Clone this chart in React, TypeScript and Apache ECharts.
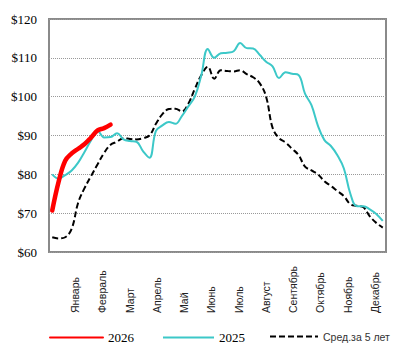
import React, { useEffect, useRef } from "react";
import * as echarts from "echarts";

const weeks: string[] = Array.from({ length: 52 }, (_, i) => `W${i + 1}`);
const months = ["Январь", "Февраль", "Март", "Апрель", "Май", "Июнь", "Июль", "Август", "Сентябрь", "Октябрь", "Ноябрь", "Декабрь"];
const yTicks = [60, 70, 80, 90, 100, 110, 120];

const s2026 = [70.7, 78.2, 83.5, 85.4, 86.6, 87.8, 89.5, 91.3, 91.9, 92.8];
const s2025 = [
  80.0, 78.9, 79.8, 81.0, 83.0, 85.8, 88.8, 91.2, 89.5, 89.6,
  90.6, 89.0, 88.6, 88.4, 86.0, 84.3, 91.2, 92.6, 93.5, 93.0,
  95.0, 97.5, 100.0, 105.5, 112.3, 110.0, 111.2, 111.3, 111.7, 113.8,
  112.5, 112.4, 110.8, 109.0, 107.8, 104.8, 106.3, 105.9, 105.6, 100.8,
  97.8, 92.5, 88.8, 87.3, 84.9, 81.5, 75.0, 71.8, 71.8, 71.0,
  69.8, 68.0,
];
const avg5 = [
  63.8, 63.5, 63.8, 66.0, 72.7, 76.5, 79.6, 82.6, 85.5, 87.6,
  88.4, 89.3, 89.1, 89.0, 89.3, 90.0, 93.0, 95.5, 96.8, 96.9,
  96.2, 98.2, 102.0, 105.5, 107.7, 104.6, 106.8, 106.6, 106.5, 106.8,
  105.8, 105.0, 103.5, 100.0, 92.0, 89.3, 88.2, 86.6, 85.0, 82.0,
  81.0, 80.0, 78.2, 77.0, 75.7, 74.4, 72.3, 71.9, 71.5, 69.2,
  67.5, 66.3,
];

const RED = "#ff0000";
const CYAN = "#3cc8c8";

const hiddenSymbol = { color: "rgba(0,0,0,0)", borderWidth: 0, borderColor: "rgba(0,0,0,0)", opacity: 0 };

export default function App() {
  const ref = useRef<HTMLDivElement>(null);
  useEffect(() => {
    if (!ref.current) return;
    const chart = echarts.init(ref.current, undefined, { renderer: "svg" });
    chart.setOption({
      animation: false,
      backgroundColor: "#ffffff",
      grid: [
        { left: 49, right: 27, top: 19, bottom: 103, show: true, borderColor: "#8a8a8a", borderWidth: 2, backgroundColor: "transparent" },
        { left: 75, right: 38, top: 19, bottom: 103, show: false },
      ],
      xAxis: [
        { type: "category", data: weeks, gridIndex: 0, show: false, boundaryGap: true },
        {
          type: "category",
          data: months,
          gridIndex: 1,
          boundaryGap: false,
          axisLine: { show: false },
          axisTick: { show: false },
          splitLine: { show: false },
          axisLabel: {
            interval: 0,
            rotate: 90,
            align: "left",
            verticalAlign: "middle",
            margin: 61,
            fontFamily: "Liberation Sans",
            fontSize: 10.5,
            color: "#222",
          },
        },
      ],
      yAxis: [
        {
          type: "value",
          gridIndex: 0,
          min: yTicks[0],
          max: yTicks[yTicks.length - 1],
          interval: 10,
          axisLine: { show: false },
          axisTick: { show: false },
          splitLine: { show: true, lineStyle: { type: "dotted", color: "#999", width: 1 } },
          axisLabel: {
            margin: 12,
            fontFamily: "Liberation Serif",
            fontSize: 13,
            color: "#000",
            formatter: (v: number) => `$${v}`,
          },
        },
        { type: "value", gridIndex: 1, show: false, min: 0, max: 1 },
      ],
      legend: [
        {
          data: ["2026"],
          left: 44,
          top: 326,
          itemWidth: 53,
          itemHeight: 14,
          itemStyle: hiddenSymbol,
          textStyle: { fontFamily: "Liberation Serif", fontSize: 13, color: "#000" },
        },
        {
          data: ["2025"],
          left: 157,
          top: 326,
          itemWidth: 51,
          itemHeight: 14,
          itemStyle: hiddenSymbol,
          textStyle: { fontFamily: "Liberation Serif", fontSize: 13, color: "#000" },
        },
        {
          data: ["Сред.за 5 лет"],
          left: 264,
          top: 326,
          itemWidth: 48,
          itemHeight: 14,
          itemStyle: hiddenSymbol,
          textStyle: { fontFamily: "Liberation Sans", fontSize: 10.5, color: "#333" },
        },
      ],
      series: [
        {
          name: "Сред.за 5 лет",
          type: "line",
          data: avg5,
          smooth: 0.4,
          symbol: "none",
          lineStyle: { color: "#000", width: 2, type: [6, 3] },
          itemStyle: { color: "#000" },
          z: 2,
        },
        {
          name: "2025",
          type: "line",
          data: s2025,
          smooth: 0.4,
          symbol: "none",
          lineStyle: { color: CYAN, width: 2 },
          itemStyle: { color: CYAN },
          z: 3,
        },
        {
          name: "2026",
          type: "line",
          data: s2026,
          smooth: 0.4,
          symbol: "none",
          lineStyle: { color: RED, width: 4.5, cap: "round" },
          itemStyle: { color: RED },
          z: 4,
        },
      ],
    });
    return () => chart.dispose();
  }, []);
  return <div ref={ref} style={{ position: "absolute", left: 0, top: 0, width: 413, height: 355 }} />;
}
